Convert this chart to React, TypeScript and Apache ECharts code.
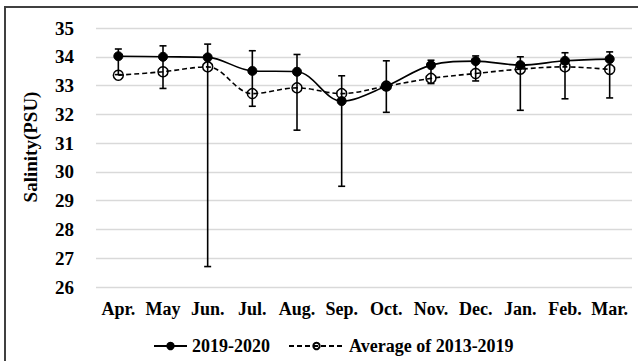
import React, { useEffect, useRef } from "react";
import * as echarts from "echarts";

const months = ["Apr.", "May", "Jun.", "Jul.", "Aug.", "Sep.", "Oct.", "Nov.", "Dec.", "Jan.", "Feb.", "Mar."];
const series2019 = [34.02, 34.0, 33.98, 33.51, 33.48, 32.46, 32.98, 33.71, 33.85, 33.71, 33.86, 33.92];
const seriesAvg = [33.36, 33.48, 33.65, 32.72, 32.92, 32.72, 32.98, 33.25, 33.42, 33.57, 33.65, 33.56];
const errHigh = [34.27, 34.38, 34.44, 34.21, 34.08, 33.34, 33.86, 33.88, 34.03, 34.0, 34.14, 34.17];
const errLow = [33.38, 32.9, 26.71, 32.28, 31.45, 29.5, 32.07, 33.07, 33.16, 32.14, 32.54, 32.57];
const yTitle = "Salinity(PSU)";
const name2019 = "2019-2020";
const nameAvg = "Average of 2013-2019";

const FONT = "'Liberation Serif', 'Times New Roman', serif";

export default function App() {
  const ref = useRef<HTMLDivElement>(null);
  useEffect(() => {
    if (!ref.current) return;
    const chart = echarts.init(ref.current, null, { renderer: "svg" });
    const errData = months.map((_, i) => [i, errHigh[i], errLow[i]]);
    const legendText = { color: "#000", fontFamily: FONT, fontWeight: "bold", fontSize: 18 };
    chart.setOption({
      animation: false,
      backgroundColor: "#ffffff",
      textStyle: { fontFamily: FONT },
      grid: { left: 96, right: 6, top: 28, bottom: 74 },
      xAxis: {
        type: "category",
        data: months,
        boundaryGap: true,
        axisLine: { show: false },
        axisTick: { show: false },
        axisLabel: {
          interval: 0,
          margin: 13,
          color: "#000",
          fontFamily: FONT,
          fontWeight: "bold",
          fontSize: 18,
        },
      },
      yAxis: {
        type: "value",
        min: 26,
        max: 35,
        interval: 1,
        axisLine: { show: false },
        axisTick: { show: false },
        splitLine: { lineStyle: { color: "#d9d9d9", width: 1.3 } },
        axisLabel: {
          margin: 22,
          color: "#000",
          fontFamily: FONT,
          fontWeight: "bold",
          fontSize: 19,
        },
      },
      legend: [
        {
          data: [name2019],
          left: 153,
          top: 337,
          itemWidth: 33,
          itemHeight: 8,
          padding: 0,
          textStyle: legendText,
        },
        {
          data: [nameAvg],
          left: 288,
          top: 337,
          itemWidth: 55,
          itemHeight: 8,
          padding: 0,
          textStyle: legendText,
        },
      ],
      graphic: [
        {
          type: "rect",
          shape: { x: 5, y: 7, width: 640, height: 360 },
          style: { fill: "none", stroke: "#404040", lineWidth: 2 },
          silent: true,
        },
        {
          type: "text",
          x: 30,
          y: 147,
          rotation: Math.PI / 2,
          style: {
            text: yTitle,
            fill: "#000",
            fontFamily: FONT,
            fontWeight: "bold",
            fontSize: 19,
            textAlign: "center",
            textVerticalAlign: "middle",
          },
        },
      ],
      series: [
        {
          type: "custom",
          name: "err",
          data: errData,
          encode: { x: 0, y: [1, 2] },
          z: 1,
          renderItem: (params: any, api: any) => {
            const idx = api.value(0);
            const hi = api.coord([idx, api.value(1)]);
            const lo = api.coord([idx, api.value(2)]);
            const half = 3.5;
            const style = { stroke: "#000", lineWidth: 1.6 };
            return {
              type: "group",
              children: [
                { type: "line", shape: { x1: hi[0], y1: hi[1], x2: lo[0], y2: lo[1] }, style },
                { type: "line", shape: { x1: hi[0] - half, y1: hi[1], x2: hi[0] + half, y2: hi[1] }, style },
                { type: "line", shape: { x1: lo[0] - half, y1: lo[1], x2: lo[0] + half, y2: lo[1] }, style },
              ],
            };
          },
        },
        {
          type: "line",
          name: name2019,
          data: series2019,
          smooth: 0.35,
          z: 3,
          symbol: "circle",
          symbolSize: 9,
          lineStyle: { color: "#000", width: 1.6 },
          itemStyle: { color: "#000", borderColor: "#000", borderWidth: 1 },
        },
        {
          type: "line",
          name: nameAvg,
          data: seriesAvg,
          smooth: 0.35,
          z: 2,
          symbol: "circle",
          symbolSize: 10,
          showAllSymbol: true,
          lineStyle: { color: "#000", width: 1.6, type: [5, 3] },
          itemStyle: { color: "rgba(0,0,0,0)", borderColor: "#000", borderWidth: 1.5 },
        },
      ],
    });
    return () => chart.dispose();
  }, []);
  return (
    <div
      ref={ref}
      style={{ position: "fixed", left: 0, top: 0, width: 638, height: 361 }}
    />
  );
}
